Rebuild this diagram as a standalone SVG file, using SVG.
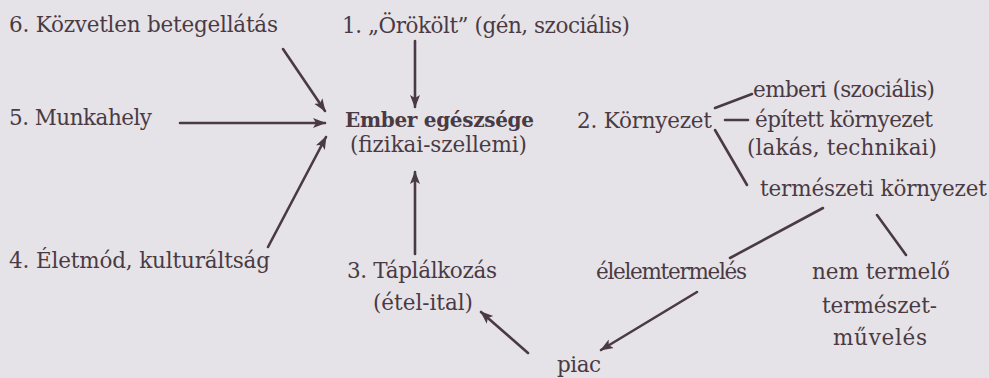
<svg xmlns="http://www.w3.org/2000/svg" width="989" height="378" viewBox="0 0 989 378">
<style>
text{font-family:"DejaVu Serif","Liberation Serif",serif;font-size:21.5px;fill:#4a3a44}
.b{font-weight:bold;font-size:20px}
.c line{stroke:#4a3a44;stroke-width:2.6;stroke-linecap:round}
.c .a{marker-end:url(#ah)}
</style>
<defs>
<marker id="ah" markerUnits="userSpaceOnUse" markerWidth="14" markerHeight="12" viewBox="0 0 14 12" refX="12" refY="6" orient="auto">
<path d="M0,1 L13,6 L0,11 L3,6 Z" fill="#4a3a44"/>
</marker>
</defs>
<rect width="989" height="378" fill="#e5e3e7"/>
<g class="c" id="connectors">
<line class="a" x1="283" y1="49" x2="325" y2="111"/>
<line class="a" x1="180" y1="123" x2="325" y2="123"/>
<line class="a" x1="415" y1="41" x2="415" y2="107"/>
<line class="a" x1="268" y1="247" x2="326" y2="137"/>
<line class="a" x1="415" y1="254" x2="415" y2="172"/>
<line class="a" x1="528" y1="353" x2="481" y2="312"/>
<line class="a" x1="697" y1="292" x2="601" y2="350"/>
<line x1="715" y1="108" x2="752" y2="94"/>
<line x1="725" y1="120" x2="748" y2="120"/>
<line x1="715" y1="130" x2="747" y2="185"/>
<line x1="823" y1="208" x2="730" y2="258"/>
<line x1="877" y1="215" x2="906" y2="255"/>
</g>
<g id="n6"><text x="9" y="32" textLength="269">6. Közvetlen betegellátás</text></g>
<g id="n5"><text x="9" y="125" textLength="143">5. Munkahely</text></g>
<g id="n1"><text x="342" y="33" textLength="288">1. „Örökölt” (gén, szociális)</text></g>
<g id="center"><text class="b" x="345" y="127" textLength="189">Ember egészsége</text>
<text x="350" y="152" textLength="177">(fizikai-szellemi)</text></g>
<g id="n2"><text x="577" y="128" textLength="135">2. Környezet</text></g>
<g id="n2a"><text x="753" y="97" textLength="182">emberi (szociális)</text></g>
<g id="n2b"><text x="755" y="127" textLength="178">épített környezet</text>
<text x="747" y="155" textLength="190">(lakás, technikai)</text></g>
<g id="n2c"><text x="760" y="196" textLength="227">természeti környezet</text></g>
<g id="n4"><text x="9" y="268" textLength="261">4. Életmód, kulturáltság</text></g>
<g id="n3"><text x="347" y="278" textLength="150">3. Táplálkozás</text>
<text x="373" y="310" textLength="100">(étel-ital)</text></g>
<g id="nel"><text x="596" y="279" textLength="151">élelemtermelés</text></g>
<g id="nnem"><text x="812" y="279" textLength="138">nem termelő</text>
<text x="822" y="313" textLength="115">természet-</text>
<text x="833" y="345" textLength="94">művelés</text></g>
<g id="npiac"><text x="557" y="372" textLength="44">piac</text></g>
</svg>
